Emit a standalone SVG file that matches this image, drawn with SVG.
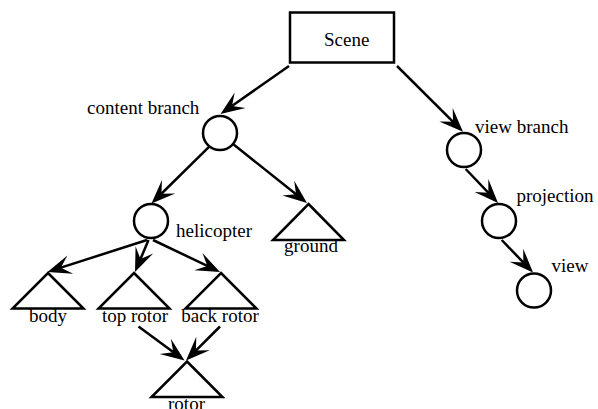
<svg xmlns="http://www.w3.org/2000/svg" width="598" height="409" viewBox="0 0 598 409">
  <style>
    .shape { fill: #ffffff; stroke: #000000; stroke-width: 2.5; }
    .edge { fill: none; stroke: #000000; stroke-width: 2.5; marker-end: url(#head); }
    text { font-family: "Liberation Serif", "Times New Roman", serif; font-size: 19px; fill: #000000; }
    .mid { text-anchor: middle; }
  </style>
  <defs>
    <!-- barbed arrowhead; line ends just ahead of the notch, tip lies 10 units further on -->
    <marker id="head" markerUnits="userSpaceOnUse" viewBox="-16 -11 28 22" refX="0" refY="0" markerWidth="28" markerHeight="22" orient="auto" overflow="visible">
      <path d="M10,0 L-14,-9.5 L-4,0 L-14,9.5 Z" fill="#000000"/>
    </marker>
  </defs>

  <g id="connectors">
    <line class="edge" x1="289" y1="66" x2="228.7" y2="108.3"/>
    <line class="edge" x1="397" y1="66" x2="455.9" y2="124.6"/>
    <line class="edge" x1="209.5" y1="146.4" x2="158.6" y2="196.5"/>
    <line class="edge" x1="233" y1="144" x2="299.2" y2="196.8"/>
    <line class="edge" x1="147" y1="240" x2="57" y2="268.9"/>
    <line class="edge" x1="148.5" y1="240" x2="138.9" y2="262.8"/>
    <line class="edge" x1="153" y1="240" x2="211" y2="267.7"/>
    <line class="edge" x1="138.5" y1="326.5" x2="176.5" y2="354.6"/>
    <line class="edge" x1="220" y1="326.5" x2="193.1" y2="353.4"/>
    <line class="edge" x1="465.7" y1="169" x2="491.1" y2="195.7"/>
    <line class="edge" x1="501.7" y1="240" x2="526.1" y2="265.3"/>
  </g>

  <g id="scene">
    <rect class="shape" x="290" y="12.5" width="104" height="50"/>
    <text x="324" y="45.5">Scene</text>
  </g>

  <g id="content-branch">
    <circle class="shape" cx="220" cy="133" r="17"/>
    <text x="87" y="114">content branch</text>
  </g>

  <g id="view-branch">
    <circle class="shape" cx="464" cy="150" r="17"/>
    <text x="475" y="133">view branch</text>
  </g>

  <g id="projection">
    <circle class="shape" cx="499" cy="221" r="17"/>
    <text x="516.5" y="201.5">projection</text>
  </g>

  <g id="view">
    <circle class="shape" cx="534" cy="290.5" r="17"/>
    <text x="551.5" y="272">view</text>
  </g>

  <g id="helicopter">
    <circle class="shape" cx="151" cy="221" r="17"/>
    <text x="176" y="236.5">helicopter</text>
  </g>

  <g id="ground">
    <polygon class="shape" points="308.5,204 344,240 273,240"/>
    <text class="mid" x="311" y="252">ground</text>
  </g>

  <g id="body">
    <polygon class="shape" points="48,273 83.5,308.5 12.5,308.5"/>
    <text class="mid" x="48" y="321.5">body</text>
  </g>

  <g id="top-rotor">
    <polygon class="shape" points="134,273 169.5,308.5 98.5,308.5"/>
    <text class="mid" x="135" y="321.5">top rotor</text>
  </g>

  <g id="back-rotor">
    <polygon class="shape" points="221,273 256.5,308.5 185.5,308.5"/>
    <text class="mid" x="220" y="321.5">back rotor</text>
  </g>

  <g id="rotor">
    <polygon class="shape" points="187,361.5 222.5,397 151.5,397"/>
    <text class="mid" x="186.5" y="410">rotor</text>
  </g>
</svg>
